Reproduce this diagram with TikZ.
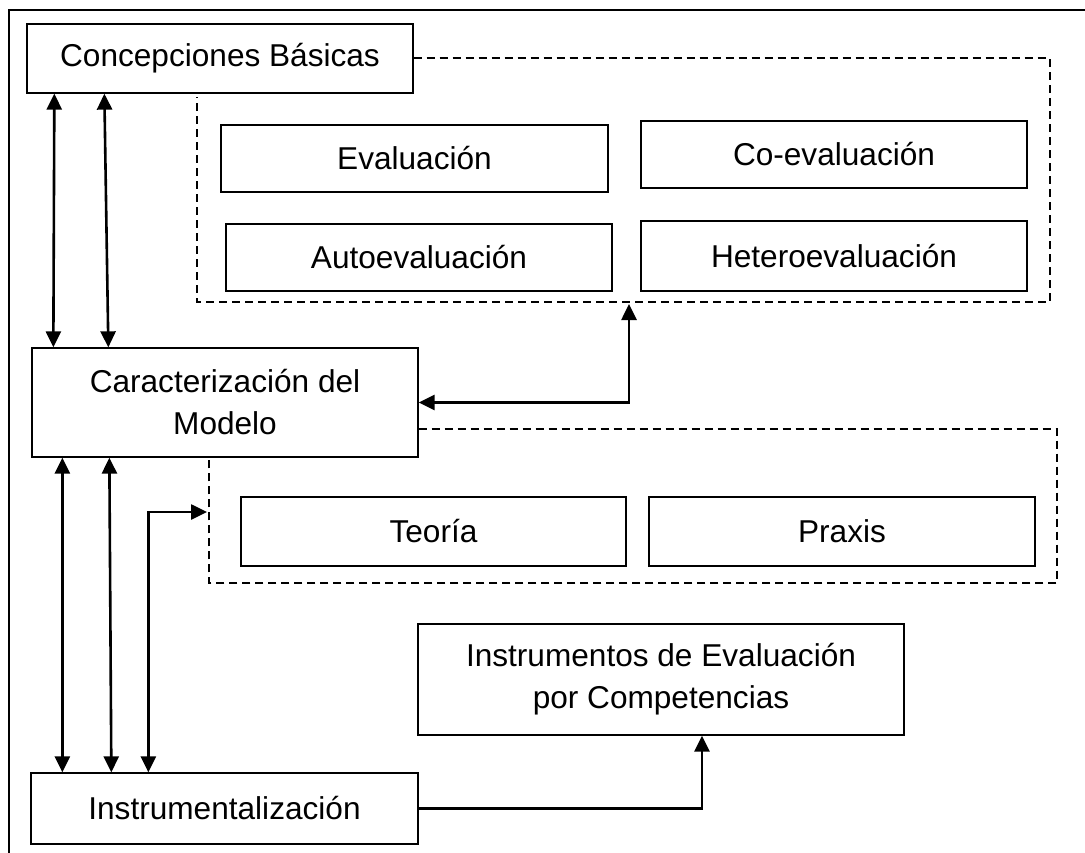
\documentclass[tikz,border=0pt]{standalone}
\usepackage{fontspec}
\setmainfont{Liberation Sans}
\usetikzlibrary{arrows.meta}
\tikzset{
    box/.style={draw, line width=1.3pt, align=center, inner sep=0pt},
    grp/.style={line width=2pt, dash pattern=on 8pt off 5pt},
    link/.style={line width=2.6pt, {Triangle[length=16pt,width=15pt]}-{Triangle[length=16pt,width=15pt]}},
}
\begin{document}
\begin{tikzpicture}[x=1pt,y=-1pt,font=\fontsize{31.6}{42}\selectfont]
        \useasboundingbox (0,0) rectangle (1085,853);
        \draw[line width=1.3pt] (9,853) -- (9,10) -- (1085,10);
        \node[box, minimum width=386pt, minimum height=69pt] (cb) at (220,58.5) {Concepciones Básicas};
        \node[box, minimum width=387pt, minimum height=67pt] (eva) at (414.5,158.5) {Evaluación};
        \node[box, minimum width=386pt, minimum height=67pt] (coev) at (834,154.5) {Co-evaluación};
        \node[box, minimum width=386pt, minimum height=67pt] (auto) at (419,257.5) {Autoevaluación};
        \node[box, minimum width=386pt, minimum height=70pt] (hetero) at (834,256) {Heteroevaluación};
        \node[box, minimum width=386pt, minimum height=109pt] (cm) at (225,402.5) {Caracterización del\\Modelo};
        \node[box, minimum width=385pt, minimum height=69pt] (teo) at (433.5,531.5) {Teoría};
        \node[box, minimum width=386pt, minimum height=69pt] (praxis) at (842,531.5) {Praxis};
        \node[box, minimum width=486pt, minimum height=111pt] (instr) at (661,679.5) {Instrumentos de Evaluación\\por Competencias};
        \node[box, minimum width=387pt, minimum height=71pt] (inst) at (224.5,808.5) {Instrumentalización};
        % dashed groups
        \draw[grp] (cb.east) -| (1050,302) -| (197,97);
        \draw[grp] (cm.east |- 0,429) -| (1057,583) -| (209,458);
        \coordinate (g1s) at (629,304);
        \coordinate (g2w) at (207,512);
        % arrows
        \draw[link] ([xshift=28pt]cb.south west) -- ([xshift=22pt]cm.north west);
        \draw[link] ([xshift=78pt]cb.south west) -- ([xshift=77pt]cm.north west);
        \draw[link] (g1s) |- (cm.east);
        \draw[link] ([xshift=31pt]cm.south west) -- ([xshift=32pt]inst.north west);
        \draw[link] ([xshift=78pt]cm.south west) -- ([xshift=81pt]inst.north west);
        \draw[link] ([xshift=118pt]inst.north west) |- (g2w);
        \draw[line width=2.6pt, -{Triangle[length=16pt,width=15pt]}] (inst.east) -| ([xshift=41pt]instr.south);
    \end{tikzpicture}
\end{document}
